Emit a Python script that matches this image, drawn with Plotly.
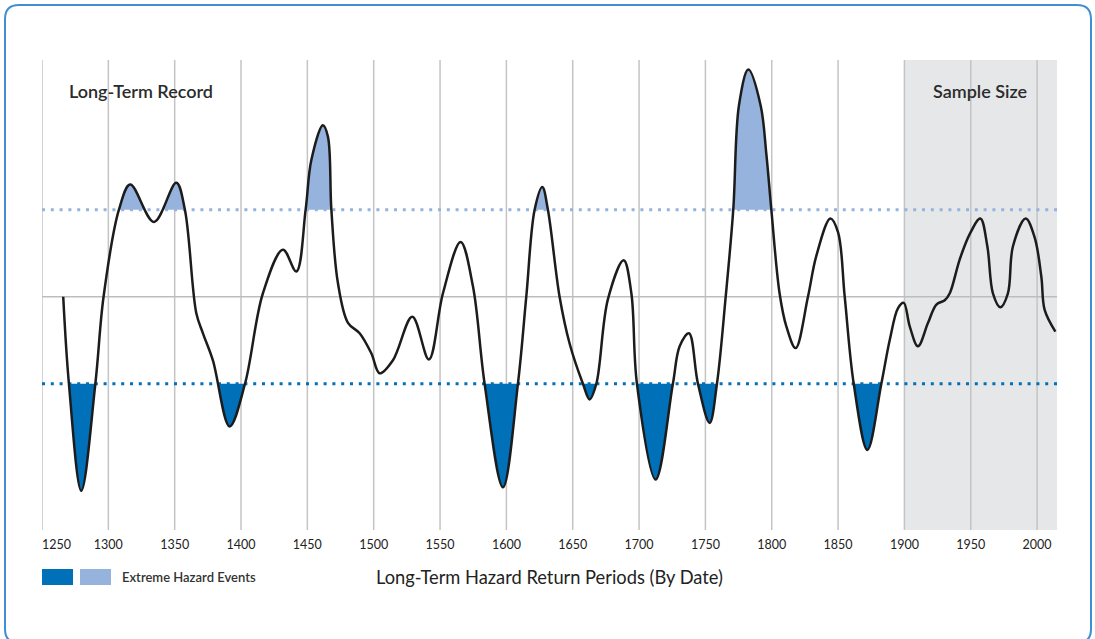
import plotly.graph_objects as go

# hazard index (0 = long-term mean)
years = [1266, 1270.3, 1279.6, 1290.2, 1296.4, 1308, 1316.5, 1334.4, 1351.2, 1357.7,
         1366.3, 1371.3, 1378.8, 1391.4, 1403, 1416.5, 1431.6, 1441.7, 1448.7, 1453,
         1461.7, 1465.5, 1468.1, 1473, 1480.6, 1489.4, 1498.2, 1504.5, 1514.5,
         1529.1, 1541.6, 1552.2, 1565.5, 1574.8, 1583.6, 1597.4, 1608.7, 1615, 1621.3,
         1627.1, 1631.3, 1640.1, 1647.7, 1657.7, 1662.7, 1667.8, 1676.5, 1688.4, 1694.2,
         1698.4, 1712.5, 1725.5, 1730.6, 1737.6, 1744.4, 1753.2, 1758.7, 1765.3, 1771,
         1775.3, 1782.4, 1791.6, 1796, 1799.7, 1805.9, 1811, 1818, 1827.3,
         1833.6, 1844.2, 1850, 1855, 1861.8, 1872.1, 1882.6, 1888.9, 1895.2, 1899.5,
         1904, 1910.2, 1917.8, 1924.1, 1930.4, 1934.2, 1941.7, 1949.2, 1957.2, 1962.5,
         1966.7, 1972.3, 1978, 1981.8, 1991.4, 1998.2, 2003.2, 2005.7, 2013.8]
hazard = [0.00, -1.00, -2.23, -1.00, 0.00, 1.00, 1.29, 0.86, 1.31, 1.00,
          -0.19, -0.42, -0.73, -1.49, -1.00, 0.04, 0.54, 0.29, 1.00, 1.57,
          1.97, 1.84, 1.00, 0.16, -0.30, -0.42, -0.65, -0.88, -0.73,
          -0.23, -0.72, 0.04, 0.63, 0.12, -1.00, -2.19, -1.00, 0.00, 1.00,
          1.26, 1.00, 0.00, -0.54, -1.00, -1.18, -1.00, -0.03, 0.42, 0.04,
          -1.00, -2.10, -1.00, -0.57, -0.42, -1.00, -1.45, -1.00, 0.00, 1.00,
          2.20, 2.61, 2.20, 1.63, 1.00, 0.04, -0.34, -0.59, 0.00,
          0.47, 0.90, 0.74, 0.00, -1.00, -1.76, -1.00, -0.50, -0.13, -0.07,
          -0.34, -0.57, -0.30, -0.09, -0.04, 0.04, 0.43, 0.72, 0.90, 0.58,
          0.04, -0.12, 0.04, 0.58, 0.90, 0.68, 0.23, -0.15, -0.40]

upper_limit = 1.0
lower_limit = -1.0
tick_years = list(range(1250, 2001, 50))
tick_text = ["\u2007\u2007\u2007\u20071250"] + [str(y) for y in tick_years[1:]]
sample_start, x_end = 1900, 2015
y_lo, y_hi = -2.68, 2.72

FONT = "Lato, 'Noto Sans', sans-serif"
LIGHT = "#95b3dd"
DARK = "#0070b9"

W, H = 1095, 639
L, R, T, B = 42, 38, 60, 109
pw, ph = W - L - R, H - T - B


def px(x):
    return (x - L) / pw


def py(y):
    return (H - B - y) / ph


fig = go.Figure()
# fills: each drawn in a sub-axis that only covers the part beyond its threshold
fig.add_trace(go.Scatter(x=years, y=hazard, xaxis="x", yaxis="y", mode="lines",
                         line=dict(width=0, shape="spline", color=LIGHT),
                         fill="tozeroy", fillcolor=LIGHT, hoverinfo="skip"))
fig.add_trace(go.Scatter(x=years, y=hazard, xaxis="x", yaxis="y2", mode="lines",
                         line=dict(width=0, shape="spline", color=DARK),
                         fill="tozeroy", fillcolor=DARK, hoverinfo="skip"))
fig.add_trace(go.Scatter(x=years, y=hazard, xaxis="x", yaxis="y3", mode="lines",
                         line=dict(width=2.5, shape="spline", color="#1c1c1c")))

up_dom = (upper_limit - y_lo) / (y_hi - y_lo)
lo_dom = (lower_limit - y_lo) / (y_hi - y_lo)

shapes = [dict(type="rect", xref="x", yref="paper", x0=sample_start, x1=x_end, y0=0, y1=1,
               fillcolor="#e6e7e9", line=dict(width=0), layer="below")]
for t in tick_years:
    shapes.append(dict(type="line", xref="x", yref="paper", x0=t, x1=t, y0=0, y1=1,
                       line=dict(color="#c4c4c4", width=1.5), layer="below"))
shapes.append(dict(type="line", xref="paper", yref="y3", x0=0, x1=1, y0=0, y1=0,
                   line=dict(color="#bdbdbd", width=1.5), layer="below"))
shapes.append(dict(type="line", xref="paper", yref="y3", x0=0, x1=1, y0=upper_limit, y1=upper_limit,
                   line=dict(color=LIGHT, width=3, dash="3px,5.8px"), layer="below"))
shapes.append(dict(type="line", xref="paper", yref="y3", x0=0, x1=1, y0=lower_limit, y1=lower_limit,
                   line=dict(color=DARK, width=3, dash="3px,5.8px"), layer="below"))

# legend swatches
shapes.append(dict(type="rect", xref="paper", yref="paper", x0=px(42), x1=px(73), y0=py(585), y1=py(569),
                   fillcolor=DARK, line=dict(width=0)))
shapes.append(dict(type="rect", xref="paper", yref="paper", x0=px(80), x1=px(111), y0=py(585), y1=py(569),
                   fillcolor=LIGHT, line=dict(width=0)))

# rounded frame
bl, bt, br, bb, r = 5, 5, 1091, 643, 14
pts = [("M", [(bl + r, bt)]), ("L", [(br - r, bt)]), ("Q", [(br, bt), (br, bt + r)]),
       ("L", [(br, bb - r)]), ("Q", [(br, bb), (br - r, bb)]), ("L", [(bl + r, bb)]),
       ("Q", [(bl, bb), (bl, bb - r)]), ("L", [(bl, bt + r)]), ("Q", [(bl, bt), (bl + r, bt)])]
path = " ".join(c + " " + " ".join(f"{px(a):.5f},{py(b):.5f}" for a, b in p) for c, p in pts) + " Z"
shapes.append(dict(type="path", xref="paper", yref="paper", path=path,
                   line=dict(color="#3f8fd4", width=2)))

annotations = [
    dict(text="Long-Term Record", x=px(67), y=py(91), xanchor="left", yanchor="middle",
         font=dict(size=18, color="#2b2b2b", family=FONT, weight=600)),
    dict(text="Sample Size", x=px(980), y=py(91), xanchor="center", yanchor="middle",
         font=dict(size=18, color="#2b2b2b", family=FONT, weight=600)),
    dict(text="Long-Term Hazard Return Periods (By Date)", x=px(549), y=py(577),
         xanchor="center", yanchor="middle", font=dict(size=18.3, color="#222", family=FONT)),
    dict(text="Extreme Hazard Events", x=px(120), y=py(577), xanchor="left", yanchor="middle",
         font=dict(size=13, color="#333", family=FONT, weight=600)),
]
for a in annotations:
    a.update(xref="paper", yref="paper", showarrow=False)

fig.update_layout(
    width=W, height=H,
    margin=dict(l=L, r=R, t=T, b=B, pad=0),
    paper_bgcolor="white", plot_bgcolor="rgba(0,0,0,0)",
    showlegend=False,
    font=dict(family=FONT),
    xaxis=dict(range=[1250, x_end], tickvals=tick_years, ticktext=tick_text,
               showgrid=False, zeroline=False, showline=False, ticks="",
               ticklabelstandoff=5,
               tickfont=dict(size=12.5, color="#222", family=FONT), anchor="y3"),
    yaxis=dict(domain=[up_dom, 1], range=[upper_limit, y_hi], visible=False, anchor="x"),
    yaxis2=dict(domain=[0, lo_dom], range=[y_lo, lower_limit], visible=False, anchor="x"),
    yaxis3=dict(domain=[0, 1], range=[y_lo, y_hi], visible=False, anchor="x"),
    shapes=shapes,
    annotations=annotations,
)

fig.write_html("out.html", config={"displayModeBar": False},
               post_script="document.body.style.margin='0';")
